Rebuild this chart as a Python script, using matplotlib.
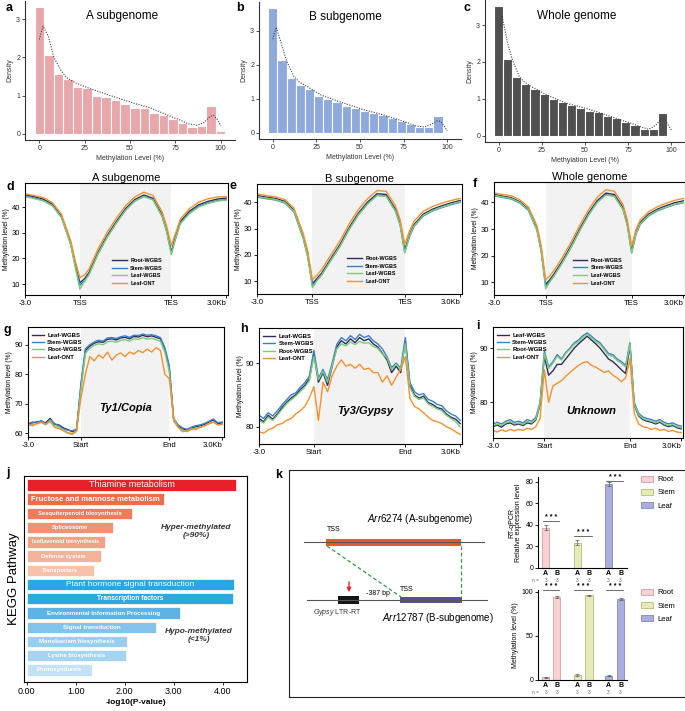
import numpy as np
import matplotlib
matplotlib.use('Agg')
import matplotlib.pyplot as plt
from matplotlib.patches import Rectangle, Patch
import matplotlib.transforms as mtransforms

plt.rcParams.update({
    'font.family': ['Liberation Sans', 'DejaVu Sans'],
    'mathtext.fontset': 'custom',
    'mathtext.rm': 'Liberation Sans',
    'mathtext.it': 'Liberation Sans:italic',
    'mathtext.bf': 'Liberation Sans:bold',
    'axes.linewidth': 0.8,
    'xtick.major.width': 0.6, 'ytick.major.width': 0.6,
    'xtick.major.size': 2, 'ytick.major.size': 2,
    'xtick.major.pad': 1.5, 'ytick.major.pad': 1.5,
    'xtick.labelsize': 5, 'ytick.labelsize': 5,
})

# ---------------- data: histograms (a-c) ----------------
hist_a = [3.31, 2.06, 1.56, 1.44, 1.23, 1.19, 0.98, 0.96, 0.89, 0.79,
          0.68, 0.68, 0.54, 0.49, 0.39, 0.27, 0.18, 0.20, 0.72, 0.06]
hist_b = [3.66, 2.14, 1.62, 1.40, 1.30, 1.08, 1.00, 0.90, 0.80, 0.72,
          0.65, 0.59, 0.51, 0.44, 0.35, 0.27, 0.18, 0.17, 0.48, 0.02]
hist_c = [3.51, 2.09, 1.58, 1.41, 1.26, 1.13, 1.00, 0.92, 0.84, 0.76,
          0.68, 0.63, 0.53, 0.47, 0.37, 0.28, 0.18, 0.18, 0.60, 0.01]
dens_x = [0, 2, 5, 8, 12, 15, 20, 28, 39, 52, 61, 71, 77, 82, 87, 91, 94, 96, 98, 100]
dens_a = [2.47, 2.82, 2.55, 2.0, 1.65, 1.47, 1.33, 1.18, 1.0, 0.8, 0.68, 0.48,
          0.37, 0.26, 0.22, 0.3, 0.45, 0.48, 0.38, 0.2]
dens_b = [2.75, 3.1, 2.6, 2.1, 1.66, 1.5, 1.35, 1.1, 0.9, 0.68, 0.56, 0.4,
          0.3, 0.2, 0.17, 0.25, 0.35, 0.34, 0.22, 0.05]
dens_c = [2.81, 3.26, 2.55, 2.05, 1.6, 1.45, 1.3, 1.1, 0.88, 0.72, 0.58, 0.42,
          0.33, 0.24, 0.17, 0.28, 0.45, 0.45, 0.3, 0.15]

# ---------------- data: gene profiles (d-f) ----------------
prof_x = [-3, -2.5, -2, -1.5, -1, -0.5, -0.25, 0, 0.25, 0.5, 1, 1.5, 2, 2.5, 3,
          3.5, 4, 4.5, 4.75, 5, 5.25, 5.5, 6, 6.5, 7, 7.5, 8]
d_root = [44.9, 44.1, 43.2, 41.2, 36.5, 26.0, 17.5, 10.5, 12.0, 14.5, 22.5, 29.0, 34.5, 39.5,
          43.0, 44.8, 43.5, 37.0, 31.0, 22.5, 29.0, 34.5, 38.5, 41.0, 42.3, 43.2, 43.6]
d_stem = [44.4, 43.6, 42.7, 40.7, 36.0, 25.5, 17.0, 9.5, 11.3, 13.9, 22.0, 28.5, 34.0, 39.0,
          42.5, 44.3, 43.0, 36.5, 30.5, 22.0, 28.4, 33.9, 37.9, 40.4, 41.7, 42.6, 43.0]
d_leaf = [44.2, 43.4, 42.5, 40.6, 35.9, 25.3, 16.5, 8.0, 11.0, 13.6, 21.8, 28.3, 33.8, 38.8,
          42.4, 44.2, 42.9, 36.3, 30.2, 21.5, 28.1, 33.6, 37.6, 40.1, 41.5, 42.4, 42.8]
d_ont = [45.3, 44.6, 43.8, 41.8, 37.2, 27.0, 19.0, 12.5, 13.5, 15.8, 23.8, 30.3, 35.8, 40.6,
         44.0, 45.9, 44.6, 38.2, 32.5, 25.0, 30.2, 35.5, 39.5, 42.0, 43.3, 44.0, 44.2]
e_root = [42.6, 42.0, 41.5, 40.4, 37.0, 27.0, 20.0, 9.0, 11.0, 13.0, 18.6, 24.0, 30.5, 36.0,
          40.2, 43.3, 43.0, 37.3, 32.0, 21.8, 27.5, 31.5, 35.5, 37.4, 38.7, 39.8, 40.7]
e_stem = [42.0, 41.4, 40.9, 39.8, 36.4, 26.4, 19.3, 8.3, 10.4, 12.4, 18.0, 23.4, 29.9, 35.4,
          39.6, 42.7, 42.4, 36.7, 31.4, 21.0, 26.8, 30.8, 34.8, 36.7, 38.0, 39.1, 40.0]
e_leaf = [42.2, 41.6, 41.1, 40.0, 36.6, 26.5, 19.0, 7.5, 10.2, 12.3, 17.9, 23.3, 29.8, 35.3,
          39.5, 42.6, 42.3, 36.6, 31.2, 20.8, 27.0, 31.0, 35.0, 36.9, 38.2, 39.3, 40.2]
e_ont = [43.2, 42.6, 42.1, 41.1, 37.8, 28.2, 21.5, 10.5, 12.3, 14.4, 20.0, 25.4, 31.9, 37.4,
         41.5, 44.5, 44.2, 38.6, 33.4, 24.0, 29.0, 32.8, 36.6, 38.4, 39.7, 40.7, 41.5]
f_root = [43.0, 42.4, 41.8, 40.3, 37.5, 30.0, 22.0, 9.2, 11.0, 13.2, 18.3, 24.0, 30.3, 36.0,
          40.7, 43.5, 43.0, 38.0, 32.0, 22.2, 28.8, 32.5, 35.7, 37.5, 38.8, 39.9, 40.6]
f_stem = [42.5, 41.9, 41.3, 39.8, 37.0, 29.5, 21.4, 8.6, 10.4, 12.6, 17.7, 23.4, 29.7, 35.4,
          40.1, 42.9, 42.4, 37.4, 31.4, 21.2, 28.0, 31.8, 35.0, 36.8, 38.1, 39.2, 39.9]
f_leaf = [42.7, 42.1, 41.5, 40.0, 37.2, 29.6, 21.2, 7.5, 10.2, 12.5, 17.6, 23.3, 29.6, 35.3,
          40.0, 42.8, 42.3, 37.3, 31.2, 20.9, 28.2, 32.0, 35.2, 37.0, 38.3, 39.4, 40.1]
f_ont = [43.6, 43.0, 42.5, 41.0, 38.3, 31.2, 23.5, 11.0, 12.4, 14.5, 19.6, 25.3, 31.6, 37.3,
         42.0, 44.8, 44.2, 39.2, 33.4, 23.6, 29.8, 33.5, 36.6, 38.4, 39.7, 40.8, 41.5]

# ---------------- data: TE profiles (g-i), bins every 0.25 kb ----------------
te_x = np.arange(-3, 8.01, 0.25)
g_leaf = [63.2, 63.5, 63.8, 64.0, 63.5, 65.0, 63.0, 62.8, 61.8, 61.2, 60.5, 61.0, 76.0, 88.0, 89.5,
          90.5, 91.0, 90.8, 91.8, 92.0, 91.6, 92.3, 92.5, 92.0, 92.8, 92.6, 93.2, 92.7, 93.0, 92.5,
          92.0, 88.5, 82.0, 64.5, 62.5, 61.5, 61.0, 61.8, 62.2, 62.5, 63.0, 63.8, 64.5, 63.2, 63.5]
g_stem = [63.0, 63.8, 63.5, 64.3, 63.2, 64.6, 63.3, 62.5, 61.5, 61.0, 60.8, 61.4, 77.0, 88.6, 90.0,
          90.9, 91.5, 91.2, 92.3, 92.4, 92.1, 92.7, 93.0, 92.5, 93.2, 93.1, 93.6, 93.2, 93.4, 93.0,
          92.4, 89.0, 83.0, 65.0, 62.8, 61.8, 61.3, 62.0, 62.5, 62.8, 63.3, 64.0, 64.8, 63.5, 63.8]
g_root = [62.7, 63.0, 63.2, 63.6, 62.8, 64.2, 62.5, 62.0, 60.8, 60.0, 59.5, 60.5, 75.0, 87.0, 88.8,
          89.8, 90.3, 90.0, 91.0, 91.2, 90.8, 91.5, 91.7, 91.2, 92.0, 91.8, 92.4, 91.9, 92.2, 91.7,
          91.2, 87.5, 81.0, 64.0, 62.0, 61.0, 60.5, 61.2, 61.7, 62.0, 62.5, 63.2, 63.8, 62.8, 63.0]
g_ont = [63.0, 62.5, 63.2, 63.8, 63.0, 64.0, 62.0, 61.5, 61.0, 60.2, 59.8, 61.0, 72.0, 80.0, 86.0,
         84.5, 86.5, 85.5, 87.5, 84.8, 86.5, 87.2, 86.0, 87.5, 86.8, 88.0, 87.3, 88.5, 87.5, 89.0,
         88.0, 80.0, 78.5, 65.0, 62.0, 60.5, 60.8, 61.5, 61.2, 62.0, 62.5, 63.2, 63.8, 62.8, 63.0]
h_leaf = [81.3, 80.8, 81.8, 81.2, 82.0, 83.0, 83.8, 84.5, 85.0, 85.8, 86.5, 87.5, 91.5, 87.0, 88.5,
          86.5, 89.5, 92.5, 93.5, 93.0, 93.8, 93.2, 94.0, 93.5, 93.8, 93.0, 92.5, 91.5, 90.5, 88.5,
          89.5, 88.5, 93.5, 86.5, 85.0, 84.5, 84.8, 83.8, 83.5, 83.0, 82.8, 82.0, 81.5, 81.2, 80.5]
h_stem = [81.8, 81.3, 82.2, 81.7, 82.5, 83.4, 84.2, 85.0, 85.3, 86.2, 86.9, 87.9, 92.0, 87.6, 89.0,
          87.4, 90.0, 92.9, 94.0, 93.5, 94.3, 93.7, 94.5, 94.0, 94.3, 93.5, 93.0, 92.2, 91.0, 89.3,
          90.0, 89.2, 94.0, 87.0, 85.5, 85.0, 85.2, 84.3, 84.0, 83.5, 83.3, 82.5, 82.0, 81.7, 81.0]
h_root = [81.0, 80.6, 81.5, 81.0, 81.8, 82.7, 83.6, 84.2, 84.8, 85.5, 86.2, 87.2, 91.0, 87.4, 88.7,
          87.0, 89.6, 92.2, 93.0, 92.7, 93.3, 92.9, 93.4, 93.1, 93.2, 92.6, 92.3, 91.4, 90.8, 89.0,
          89.8, 89.0, 93.0, 86.2, 84.8, 84.3, 84.5, 83.6, 83.2, 82.8, 82.5, 81.8, 81.3, 80.8, 80.0]
h_ont = [79.2, 79.0, 79.5, 79.8, 80.3, 80.5, 81.0, 81.3, 82.0, 82.5, 83.2, 84.5, 86.3, 81.0, 87.0,
         85.5, 88.0, 89.5, 90.5, 89.5, 89.8, 89.2, 89.8, 89.0, 89.2, 88.5, 88.5, 87.0, 88.0, 86.5,
         87.8, 89.0, 91.0, 84.5, 83.2, 82.8, 82.2, 81.5, 81.0, 80.8, 80.5, 80.0, 79.7, 79.2, 78.8]
i_leaf = [75.5, 75.8, 75.4, 76.0, 76.2, 75.8, 76.0, 75.7, 76.2, 76.0, 76.7, 79.5, 88.5, 85.0, 85.8,
          87.0, 87.0, 88.0, 89.0, 90.0, 90.8, 91.5, 92.2, 91.5, 90.8, 90.0, 89.0, 88.0, 87.5, 86.8,
          86.0, 85.3, 90.5, 79.5, 77.5, 76.8, 76.5, 76.3, 76.0, 76.3, 75.8, 75.5, 75.7, 75.3, 75.1]
i_stem = [76.0, 76.3, 76.0, 76.5, 76.8, 76.3, 76.5, 76.2, 76.8, 76.5, 77.2, 80.0, 89.5, 86.5, 87.5,
          88.8, 88.0, 89.2, 90.0, 91.0, 91.5, 92.3, 92.8, 92.2, 91.5, 91.0, 90.0, 89.0, 88.8, 88.0,
          87.5, 86.8, 91.0, 80.0, 78.0, 77.3, 77.0, 76.8, 76.5, 76.8, 76.3, 76.0, 76.2, 75.8, 75.6]
i_root = [75.7, 76.0, 75.7, 76.2, 76.5, 76.0, 76.2, 75.9, 76.5, 76.2, 76.9, 79.7, 89.0, 86.2, 87.2,
          88.5, 87.8, 89.0, 89.8, 90.7, 91.2, 92.0, 92.5, 91.9, 91.2, 90.7, 89.7, 88.7, 88.5, 87.7,
          87.2, 86.5, 90.7, 79.7, 77.7, 77.0, 76.7, 76.5, 76.2, 76.5, 76.0, 75.7, 75.9, 75.5, 75.3]
i_ont = [74.8, 74.5, 74.9, 74.6, 75.0, 74.7, 75.0, 74.8, 75.2, 75.0, 75.5, 77.0, 86.0, 80.0, 83.0,
         83.5, 84.0, 84.8, 85.5, 86.2, 86.8, 87.3, 87.5, 86.8, 86.5, 86.0, 85.5, 85.8, 85.0, 84.5,
         83.8, 84.5, 88.0, 78.0, 76.0, 75.5, 75.3, 75.0, 75.2, 74.8, 75.0, 74.6, 74.8, 74.5, 74.4]

# ---------------- data: KEGG (j) ----------------
kegg_terms = ['Thiamine metabolism', 'Fructose and mannose metabolism', 'Sesquiterpenoid biosynthesis',
              'Spliceosome', 'Isoflavonoid biosynthesis', 'Defense system', 'Transporters',
              'Plant hormone signal transduction', 'Transcription factors',
              'Environmental Information Processing', 'Signal transduction',
              'Monobactam biosynthesis', 'Lysine biosynthesis', 'Photosynthesis']
kegg_vals = [4.28, 2.81, 2.16, 1.76, 1.60, 1.51, 1.37, 4.24, 4.22, 3.13, 2.65, 2.05, 2.03, 1.34]
kegg_colors = ['#E8202A', '#EE6B4D', '#F07A5C', '#F29274', '#F4A084', '#F6B19A', '#F8C1AC',
               '#29A7E0', '#2AA8E0', '#5DB3E5', '#82C3EB', '#98CEEF', '#A5D4F1', '#C4E2F6']
kegg_fs = [6.5, 5.5, 4.2, 4.2, 4.0, 4.2, 4.2, 6.0, 4.8, 4.4, 4.4, 4.3, 4.3, 4.3]

# ---------------- data: k bar charts ----------------
k_pos = [0, 1, 2.87, 3.94, 5.73, 6.82]
k_ticks = ['A', 'B', 'A', 'B', 'A', 'B']
k_tissue = ['Root', 'Stem', 'Leaf']
qpcr_vals = [37.5, 0.3, 23.5, 0.3, 78.0, 0.3]
qpcr_err = [2.0, 0.1, 2.0, 0.1, 2.0, 0.1]
meth_vals = [3.0, 94.0, 5.5, 96.0, 5.0, 92.0]
meth_err = [0.8, 1.0, 0.8, 0.8, 0.8, 0.8]
tissue_fill = ['#F9D0D3', '#E6EBB5', '#ABAEDD']
tissue_edge = ['#D4A0A5', '#B5BB80', '#8287C0']

W, H = 685, 711


def box(l, t, r, b):
    return [l / W, 1 - b / H, (r - l) / W, (b - t) / H]


def plabel(x, y, s):
    fig.text(x / W, 1 - y / H, s, fontsize=9, fontweight='bold', ha='left', va='center')


def edge_ticklabels(ax):
    # last tick label sits flush with the right spine, as in deepTools plots
    labs = ax.get_xticklabels()
    labs[-1].set_horizontalalignment('right')


fig = plt.figure(figsize=(6.85, 7.11), dpi=100)

# ---------- a, b, c ----------
hist_centers = [i * 100 / 19 for i in range(20)]
hist_specs = [
    ((25, 1, 235, 140), hist_a, dens_a, '#E8A7AA', 'A subgenome', 0.46, 'a', 10),
    ((259, 2, 461, 139), hist_b, dens_b, '#8EAADC', 'B subgenome', 0.43, 'b', 240),
    ((485, 0, 685, 142), hist_c, dens_c, '#505050', 'Whole genome', 0.46, 'c', 467),
]
for bx, hv, dv, col, title, tx, lab, lx in hist_specs:
    ax = fig.add_axes(box(*bx))
    ax.bar(hist_centers, hv, width=100 / 19, color=col, edgecolor='white', linewidth=0.8)
    ax.plot(dens_x, dv, color='#444444', lw=0.8, ls=(0, (1, 1.3)))
    ax.set_xlim(-7.9, 107.9)
    ax.set_ylim(-0.05 * max(hv), 1.05 * max(hv))
    ax.set_xticks([0, 25, 50, 75, 100])
    ax.set_yticks([0, 1, 2, 3])
    for s in ['top', 'right']:
        ax.spines[s].set_visible(False)
    for s in ['left', 'bottom']:
        ax.spines[s].set_color('#333333')
    ax.tick_params(colors='#333333', labelsize=5)
    ax.set_xlabel('Methylation Level (%)', fontsize=5, labelpad=2, color='#333333')
    ax.set_ylabel('Density', fontsize=5, labelpad=2, color='#333333')
    ax.text(tx, 0.89, title, transform=ax.transAxes, ha='center', va='center', fontsize=8.5)
    plabel(lx - 4, 8, lab)

# ---------- d, e, f ----------
gene_specs = [
    ((25, 183, 228, 295), [d_root, d_stem, d_leaf, d_ont], (5.7, 49.5), 'A subgenome', 'd', (6, 187), (0.42, 0.06)),
    ((257, 184, 462, 294), [e_root, e_stem, e_leaf, e_ont], (5.1, 47.0), 'B subgenome', 'e', (230, 186), (0.43, 0.07)),
    ((494, 182, 685, 295), [f_root, f_stem, f_leaf, f_ont], (5.2, 47.7), 'Whole genome', 'f', (473, 184), (0.40, 0.06)),
]
gene_names = ['Root-WGBS', 'Stem-WGBS', 'Leaf-WGBS', 'Leaf-ONT']
gene_cols = ['#2C2C5E', '#3D7DCA', '#7DCB78', '#F7902F']
for bx, series, yl, title, lab, lpos, lanchor in gene_specs:
    ax = fig.add_axes(box(*bx))
    ax.axvspan(0, 5, color='#F2F2F2', lw=0, zorder=0)
    for ys, c, n in zip(series, gene_cols, gene_names):
        ax.plot(prof_x, ys, color=c, lw=1.0, label=n)
    ax.set_xlim(-3, 8.1)
    ax.set_ylim(*yl)
    ax.set_xticks([-3, 0, 5, 8])
    ax.set_xticklabels(['-3.0', 'TSS', 'TES', '3.0Kb'], fontsize=5.5)
    edge_ticklabels(ax)
    ax.set_yticks([10, 20, 30, 40])
    ax.tick_params(labelsize=5.5)
    ax.set_ylabel('Methylation level (%)', fontsize=4.8, labelpad=1.5)
    ax.set_title(title, fontsize=8, pad=1.5)
    ax.legend(loc='lower left', bbox_to_anchor=lanchor, frameon=False,
              prop={'weight': 'bold', 'size': 4}, handlelength=2.6, labelspacing=0.5,
              handletextpad=0.6, borderaxespad=0)
    plabel(lpos[0], lpos[1], lab)

# ---------- g, h, i ----------
te_specs = [
    ((28, 327, 224, 437), [g_leaf, g_stem, g_root, g_ont], (58.7, 96.0), [60, 70, 80, 90],
     'Ty1/Copia', (2.55, 68.5), 'g', (4, 330)),
    ((259, 328, 462, 444), [h_leaf, h_stem, h_root, h_ont], (77.3, 95.5), [80, 90],
     'Ty3/Gypsy', (2.8, 82.4), 'h', (240, 329)),
    ((493, 327, 683, 438), [i_leaf, i_stem, i_root, i_ont], (73.4, 93.9), [80, 90],
     'Unknown', (2.75, 78.4), 'i', (476, 326)),
]
te_names = ['Leaf-WGBS', 'Stem-WGBS', 'Root-WGBS', 'Leaf-ONT']
te_cols = ['#2C2C5E', '#3D7DCA', '#7DCB78', '#F7902F']
for bx, series, yl, yt, name, npos, lab, lpos in te_specs:
    ax = fig.add_axes(box(*bx))
    ax.axvspan(0, 5, color='#F2F2F2', lw=0, zorder=0)
    for ys, c, n in zip(series, te_cols, te_names):
        ax.plot(te_x, ys, color=c, lw=1.0, label=n)
    ax.set_xlim(-3, 8.1)
    ax.set_ylim(*yl)
    ax.set_xticks([-3, 0, 5, 8])
    ax.set_xticklabels(['-3.0', 'Start', 'End', '3.0Kb'], fontsize=5.5)
    edge_ticklabels(ax)
    ax.set_yticks(yt)
    ax.tick_params(labelsize=5.5)
    ax.set_ylabel('Methylation level (%)', fontsize=4.8, labelpad=1.5)
    ax.text(npos[0], npos[1], name, fontsize=8, fontweight='bold', fontstyle='italic',
            ha='center', va='center')
    ax.legend(loc='upper left', bbox_to_anchor=(0.01, 0.97), frameon=False,
              prop={'weight': 'bold', 'size': 4.3}, handlelength=2.0, labelspacing=0.35,
              handletextpad=0.5, borderaxespad=0)
    plabel(lpos[0], lpos[1], lab)

# ---------- j ----------
ax = fig.add_axes(box(24, 476, 247, 682))
kpos = np.arange(len(kegg_terms))
ax.barh(kpos, kegg_vals, height=0.8, color=kegg_colors, edgecolor='white', lw=0.5)
for p, v, t, fs in zip(kpos, kegg_vals, kegg_terms, kegg_fs):
    wt = 'normal' if fs >= 6 else 'bold'
    ax.text(v / 2, p, t, ha='center', va='center', color='white', fontsize=fs, fontweight=wt)
ax.set_ylim(13.85, -0.63)
ax.set_xlim(-0.055, 4.5)
ax.set_yticks([])
ax.set_xticks([0, 1, 2, 3, 4])
ax.set_xticklabels(['0.00', '1.00', '2.00', '3.00', '4.00'], fontsize=6.5)
ax.set_xlabel('-log10(P-value)', fontsize=6, fontweight='bold', labelpad=2)
ax.set_ylabel('KEGG Pathway', fontsize=9.5, labelpad=3)
ax.text(3.46, 3.3, 'Hyper-methylated\n(>90%)', ha='center', va='center', fontsize=6,
        fontweight='bold', fontstyle='italic', color='#333333')
ax.text(3.52, 10.6, 'Hypo-methylated\n(<1%)', ha='center', va='center', fontsize=6,
        fontweight='bold', fontstyle='italic', color='#333333')
plabel(6, 473, 'j')

# ---------- k: schematic frame ----------
sk = fig.add_axes(box(289, 470, 685, 697))
sk.set_xlim(289, 685)
sk.set_ylim(697, 470)
sk.set_xticks([])
sk.set_yticks([])
for s in sk.spines.values():
    s.set_color('#222222')
    s.set_linewidth(0.8)
plabel(275, 475, 'k')

sk.plot([304, 484], [542, 542], color='#555555', lw=0.8)
sk.add_patch(Rectangle((326, 539), 135, 7, color='#E25B2A', lw=0))
sk.text(334, 533, 'TSS', fontsize=5, ha='center', va='bottom')
sk.text(420, 526, r'$\it{Arr6274}$ (A-subgenome)', fontsize=7, ha='center', va='bottom')
sk.plot([307, 487], [600, 600], color='#555555', lw=0.8)
sk.add_patch(Rectangle((338, 596), 21, 8, color='#151515', lw=0))
sk.add_patch(Rectangle((400, 597), 62, 6, color='#5A4E9C', lw=0))
sk.annotate('', xy=(349, 595), xytext=(349, 579),
            arrowprops=dict(arrowstyle='-|>', color='#E8262A', lw=1.0, mutation_scale=6))
sk.text(378, 597, '-387 bp', fontsize=5, ha='center', va='bottom')
sk.text(407, 593, 'TSS', fontsize=5, ha='center', va='bottom')
sk.text(337, 613, r'$\it{Gypsy}$ LTR-RT', fontsize=5, ha='center', va='center', color='#333333')
sk.text(438, 618, r'$\it{Arr12787}$ (B-subgenome)', fontsize=7, ha='center', va='center')
sk.plot([327, 401], [546, 597], color='#2E9E45', lw=0.9, ls=(0, (3, 2)))
sk.plot([461, 461], [546, 597], color='#2E9E45', lw=0.9, ls=(0, (3, 2)))


def k_bars(bx, vals, errs, ylim, yticks, ylabel, star_y):
    ax = fig.add_axes(box(*bx))
    fills = [tissue_fill[i // 2] for i in range(6)]
    edges = [tissue_edge[i // 2] for i in range(6)]
    ax.bar(k_pos, vals, width=0.65, color=fills, edgecolor=edges, lw=0.6)
    ax.errorbar(k_pos, vals, yerr=errs, fmt='none', ecolor='#555555', elinewidth=0.5,
                capsize=1.2, capthick=0.5)
    ax.set_ylim(*ylim)
    ax.set_xlim(-0.7, 7.4)
    ax.set_yticks(yticks)
    ax.set_xticks(k_pos)
    ax.set_xticklabels(k_ticks, fontsize=5, fontweight='bold')
    ax.tick_params(axis='x', length=0, pad=1.5)
    ax.tick_params(axis='y', labelsize=5)
    for s in ['top', 'right']:
        ax.spines[s].set_visible(False)
    ax.set_ylabel(ylabel, fontsize=5, labelpad=2, linespacing=1.1)
    trans = mtransforms.blended_transform_factory(ax.transData, ax.transAxes)
    for p in k_pos:
        ax.text(p, -0.14, '3', transform=trans, fontsize=3.5, color='#666666', ha='center', va='center')
    ax.text(-0.9, -0.14, 'n =', transform=trans, fontsize=3.5, color='#666666', ha='center', va='center')
    for g in range(3):
        x0, x1 = k_pos[2 * g], k_pos[2 * g + 1]
        ax.plot([x0 - 0.25, x1 + 0.25], [star_y[g], star_y[g]], color='#333333', lw=0.5, clip_on=False)
        ax.text((x0 + x1) / 2, star_y[g], '* * *', fontsize=5, fontweight='bold', ha='center',
                va='bottom', clip_on=False)
    handles = [Patch(facecolor=tissue_fill[i], edgecolor=tissue_edge[i], lw=0.6) for i in range(3)]
    ax.legend(handles, k_tissue, loc='upper left', bbox_to_anchor=(1.12, 1.05), frameon=False,
              fontsize=5.5, handlelength=1.6, handleheight=0.9, labelspacing=0.7, handletextpad=0.6,
              borderaxespad=0)
    return ax


k_bars((538, 477, 627, 568), qpcr_vals, qpcr_err, (0, 84.3), [0, 20, 40, 60, 80],
       'RT-qPCR\nRelative expression level', [44.0, 30.0, 81.0])
k_bars((538, 590, 627, 680), meth_vals, meth_err, (0, 102), [0, 50, 100],
       'Methylation level (%)', [102.0, 102.0, 102.0])

fig.savefig('out.png', dpi=100)
